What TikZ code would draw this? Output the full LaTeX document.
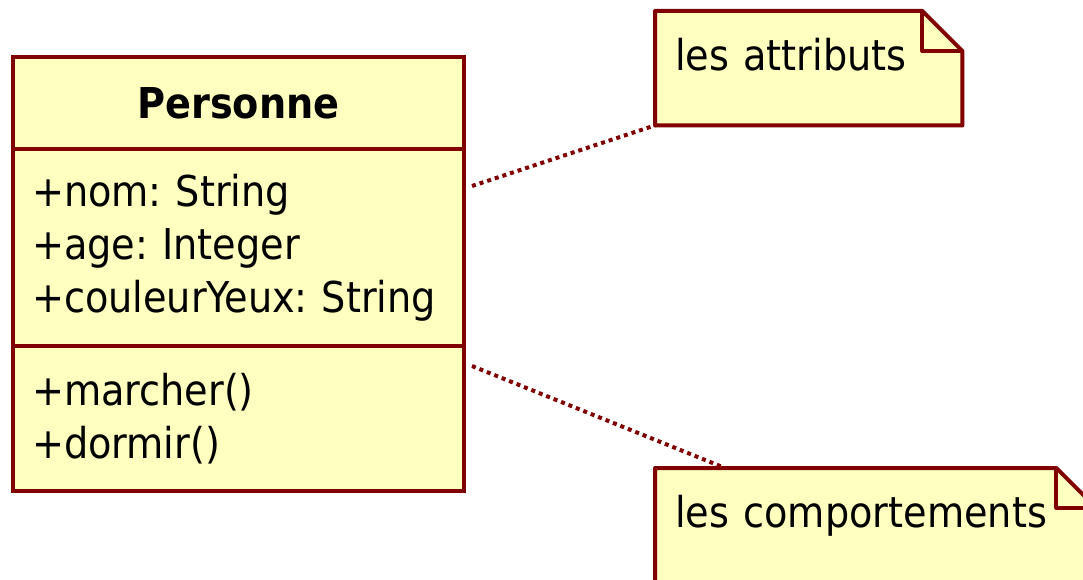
\documentclass[tikz,border=0pt]{standalone}
\usepackage{fontspec}
\setmainfont{DejaVu Sans Condensed}
\usetikzlibrary{positioning,backgrounds}
\definecolor{umlred}{RGB}{128,0,0}
\definecolor{umlfill}{RGB}{255,255,192}
\frenchspacing

\begin{document}
\begin{tikzpicture}[
    x=1pt, y=-1pt,
    font=\fontsize{42.5}{53}\selectfont,
    part/.style={draw=umlred, fill=umlfill, line width=4pt, outer sep=0pt, minimum width=451pt, text width=413pt, inner xsep=19pt, align=left},
    note/.style={anchor=north west, inner xsep=20pt, inner ysep=0pt, align=left, text height=59pt, text depth=55pt},
    noteline/.style={draw=umlred, fill=umlfill, line width=4pt, line join=round},
    link/.style={umlred, line width=4pt, dash pattern=on 4pt off 4pt}
]
\useasboundingbox (0,0) rectangle (1083,580);

% class Personne
\node[part, align=center, minimum height=92pt] (head) at (238.5,103) {\textbf{Personne}};
\node[part, minimum height=197pt, below=0pt of head] (attrs) {+nom: String\\+age: Integer\\+couleurYeux: String};
\node[part, minimum height=145pt, below=0pt of attrs] (ops) {+marcher()\\+dormir()};

% notes
\node[note, text width=267pt] (noteA) at (655,11) {les attributs};
\node[note, text width=401pt] (noteB) at (655,468) {les comportements};
\begin{scope}[on background layer]
\foreach \n in {noteA,noteB} {
  \draw[noteline] (\n.south west) |- ([xshift=-40pt]\n.north east) -- ([yshift=-40pt]\n.north east) |- (\n.south west) -- cycle;
}
\end{scope}
\foreach \n in {noteA,noteB}
  \draw[noteline, fill=none] ([xshift=-40pt]\n.north east) |- ([yshift=-40pt]\n.north east);

\draw[link] ([shift={(8,37)}]attrs.north east) -- (noteA.south west);
\draw[link] ([shift={(8,20)}]ops.north east) -- ([xshift=70pt]noteB.north west);
\end{tikzpicture}
\end{document}
